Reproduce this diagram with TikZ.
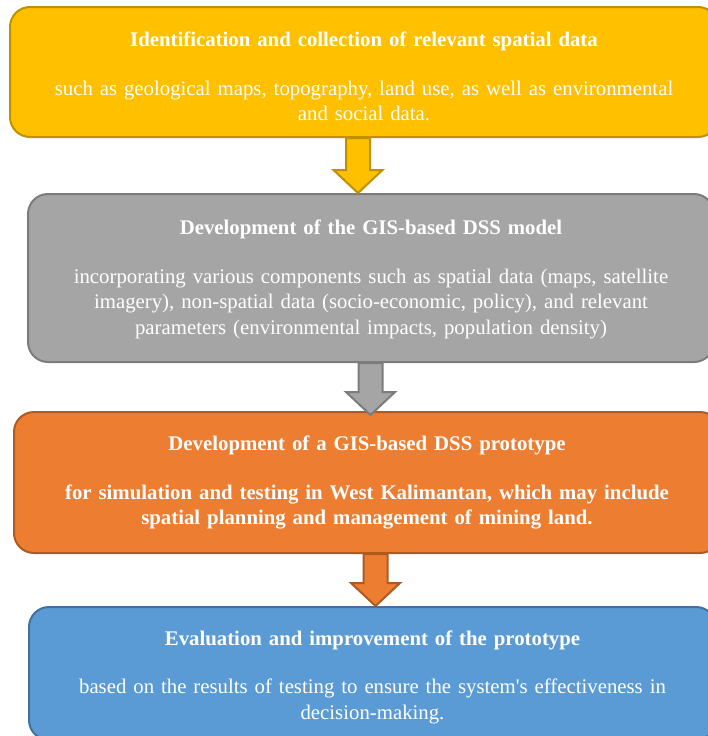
\documentclass[tikz,border=0pt]{standalone}
\usepackage{fontspec}
\setmainfont{Liberation Serif}
\usetikzlibrary{calc}

\definecolor{goldfill}{HTML}{FFC000}
\definecolor{golddraw}{HTML}{BF9000}
\definecolor{greyfill}{HTML}{A5A5A5}
\definecolor{greydraw}{HTML}{7C7C7C}
\definecolor{orangefill}{HTML}{ED7D31}
\definecolor{orangedraw}{HTML}{AE5A21}
\definecolor{bluefill}{HTML}{5B9BD5}
\definecolor{bluedraw}{HTML}{41719C}

\tikzset{
  stagebox/.style={draw, line width=2pt, rounded corners=20pt, inner sep=0pt},
  goldstage/.style={stagebox, fill=goldfill, draw=golddraw},
  greystage/.style={stagebox, fill=greyfill, draw=greydraw},
  orangestage/.style={stagebox, fill=orangefill, draw=orangedraw},
  bluestage/.style={stagebox, fill=bluefill, draw=bluedraw},
  stagetext/.style={inner sep=0pt, text width=690pt, align=center, text=white,
    font=\fontsize{20.8}{25.5}\selectfont},
  blockarrow/.style={line width=2pt, line join=miter},
}

% block arrow from the bottom of one stage to the top of the next,
% #1 = style, #2 = start coordinate, #3 = tip coordinate
\newcommand{\flowarrow}[3]{%
  \draw[#1] ($(#2)+(-12,0)$) -- ($(#3)+(-12,23)$) -- ($(#3)+(-24.5,23)$)
    -- (#3) -- ($(#3)+(24.5,23)$) -- ($(#3)+(12,23)$) -- ($(#2)+(12,0)$) -- cycle;}

\begin{document}
\begin{tikzpicture}[x=1pt,y=1pt]
\useasboundingbox (0,0) rectangle (708,-736);
\clip (0,0) rectangle (708,-736);

% stage boxes
\node[goldstage, minimum width=708pt, minimum height=130pt] (s1) at (364,-72) {};
\node[greystage, minimum width=686pt, minimum height=168pt] (s2) at (371,-278) {};
\node[orangestage, minimum width=706pt, minimum height=141pt] (s3) at (367,-482.5) {};
\node[bluestage, minimum width=687pt, minimum height=133pt] (s4) at (372.5,-673.5) {};

% stage texts
\node[stagetext] (t1) at ($(s1.center)+(0,-4.5)$)
  {\textbf{Identification and collection of relevant spatial data}\\[23pt]
   such as geological maps, topography, land use, as well as environmental\\
   and social data.};

\node[stagetext] (t2) at ($(s2.center)+(0,-1.5)$)
  {\textbf{Development of the GIS-based DSS model}\\[23pt]
   incorporating various components such as spatial data (maps, satellite\\
   imagery), non-spatial data (socio-economic, policy), and relevant\\
   parameters (environmental impacts, population density)};

\node[stagetext] (t3) at (s3.center)
  {\bfseries Development of a GIS-based DSS prototype\\[23pt]
   for simulation and testing in West Kalimantan, which may include\\
   spatial planning and management of mining land.};

\node[stagetext] (t4) at ($(s4.center)+(0,-3.5)$)
  {\textbf{Evaluation and improvement of the prototype}\\[23pt]
   based on the results of testing to ensure the system\textquotesingle s effectiveness in\\
   decision-making.};

% connectors between consecutive stages
\coordinate (a1s) at (358,0 |- s1.south);
\coordinate (a1e) at (358,0 |- s2.north);
\coordinate (a2s) at (370.5,0 |- s2.south);
\coordinate (a2e) at ($(370.5,0 |- s3.north)+(0,-4)$);
\coordinate (a3s) at (375.5,0 |- s3.south);
\coordinate (a3e) at (375.5,0 |- s4.north);

\flowarrow{blockarrow, fill=goldfill, draw=golddraw}{a1s}{a1e}
\flowarrow{blockarrow, fill=greyfill, draw=greydraw}{a2s}{a2e}
\flowarrow{blockarrow, fill=orangefill, draw=orangedraw}{a3s}{a3e}
\end{tikzpicture}
\end{document}
